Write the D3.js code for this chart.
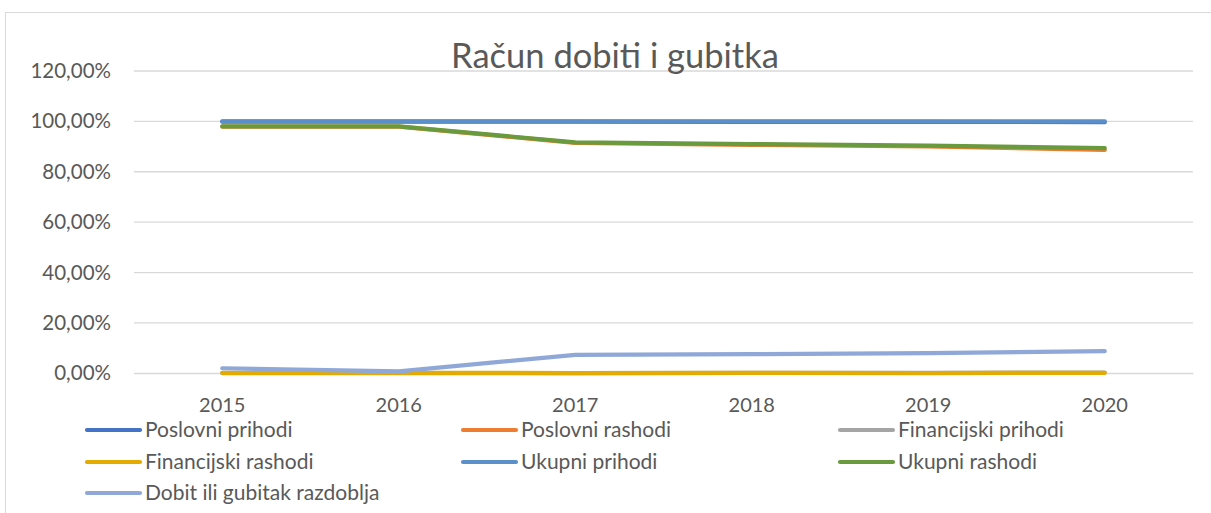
<!DOCTYPE html>
<html><head><meta charset="utf-8">
<script src="https://cdn.jsdelivr.net/npm/d3@7"></script>
<style>body{margin:0;background:#fff;}svg{display:block;font-family:Lato,"Liberation Sans",sans-serif;}</style>
</head><body><svg id="c" width="1211" height="513"></svg>
<script>
const years = ["2015","2016","2017","2018","2019","2020"];
const poslovniPrihodi   = [99.9, 99.9, 99.9, 99.8, 99.8, 99.7];
const poslovniRashodi   = [97.9, 97.9, 91.5, 90.7, 90.1, 88.7];
const financijskiPrihodi= [0.1, 0.1, 0.1, 0.2, 0.2, 0.3];
const financijskiRashodi= [0.2, 0.2, 0.1, 0.2, 0.1, 0.2];
const ukupniPrihodi     = [100, 100, 100, 100, 100, 100];
const ukupniRashodi     = [98.0, 98.0, 91.7, 91.0, 90.4, 89.4];
const dobit             = [2.0, 0.8, 7.3, 7.6, 8.0, 8.8];
const yTicks = [0,20,40,60,80,100,120];
const seriesNames = ["Poslovni prihodi","Poslovni rashodi","Financijski prihodi","Financijski rashodi","Ukupni prihodi","Ukupni rashodi","Dobit ili gubitak razdoblja"];
const seriesColors = ["#4472C4","#ED7D31","#A5A5A5","#E3AB00","#5B8FC9","#6A9A3E","#8FA8D8"];
const seriesData = [poslovniPrihodi,poslovniRashodi,financijskiPrihodi,financijskiRashodi,ukupniPrihodi,ukupniRashodi,dobit];

(function(){
const svg = d3.select("#c");
svg.append("rect").attr("x",5.5).attr("y",12.5).attr("width",1220).attr("height",520)
  .attr("fill","#fff").attr("stroke","#D9D9D9");

const pl=134, pr=1193, pt=71, pb=373.3;
const x = d3.scaleBand().domain(years).range([pl,pr]);
const y = d3.scaleLinear().domain([0,120]).range([pb,pt]);

svg.append("g").selectAll("line").data(yTicks).join("line")
  .attr("x1",pl).attr("x2",pr).attr("y1",d=>y(d)).attr("y2",d=>y(d))
  .attr("stroke","#D9D9D9").attr("stroke-width",1.3);

const fmt = d=> d.toFixed(2).replace(".",",")+"%";
const yAxis = d3.axisLeft(y).tickValues(yTicks).tickFormat(fmt).tickSize(0).tickPadding(23);
const ya = svg.append("g").attr("transform",`translate(${pl},0)`).call(yAxis);
ya.select(".domain").remove();
ya.selectAll("text").attr("font-size",20.5).attr("fill","#595959").attr("font-family","Lato,'Liberation Sans',sans-serif");

const xAxis = d3.axisBottom(x).tickSize(0).tickPadding(25);
const xa = svg.append("g").attr("transform",`translate(0,${pb})`).call(xAxis);
xa.select(".domain").attr("stroke","#D9D9D9");
xa.selectAll("text").attr("font-size",20).attr("fill","#595959").attr("font-family","Lato,'Liberation Sans',sans-serif");

const line = d3.line().x((d,i)=>x(years[i])+x.bandwidth()/2).y(d=>y(d));
seriesData.forEach((s,i)=>{
  svg.append("path").datum(s).attr("d",line).attr("fill","none")
    .attr("stroke",seriesColors[i]).attr("stroke-width",4.2).attr("stroke-linejoin","round").attr("stroke-linecap","round");
});

svg.append("text").attr("x",615).attr("y",68).attr("text-anchor","middle")
  .attr("font-size",34.5).attr("fill","#595959").text("Račun dobiti i gubitka");

const colX=[87,463,840], rowY=[430,462,493];
seriesNames.forEach((n,i)=>{
  const cx=colX[i%3], cy=rowY[Math.floor(i/3)];
  const g=svg.append("g");
  g.append("line").attr("x1",cx).attr("x2",cx+53).attr("y1",cy).attr("y2",cy)
    .attr("stroke",seriesColors[i]).attr("stroke-width",4.2).attr("stroke-linecap","round");
  g.append("text").attr("x",cx+58).attr("y",cy).attr("dy","0.35em").attr("font-size",21)
    .attr("fill","#595959").text(n);
});
})();
</script></body></html>
